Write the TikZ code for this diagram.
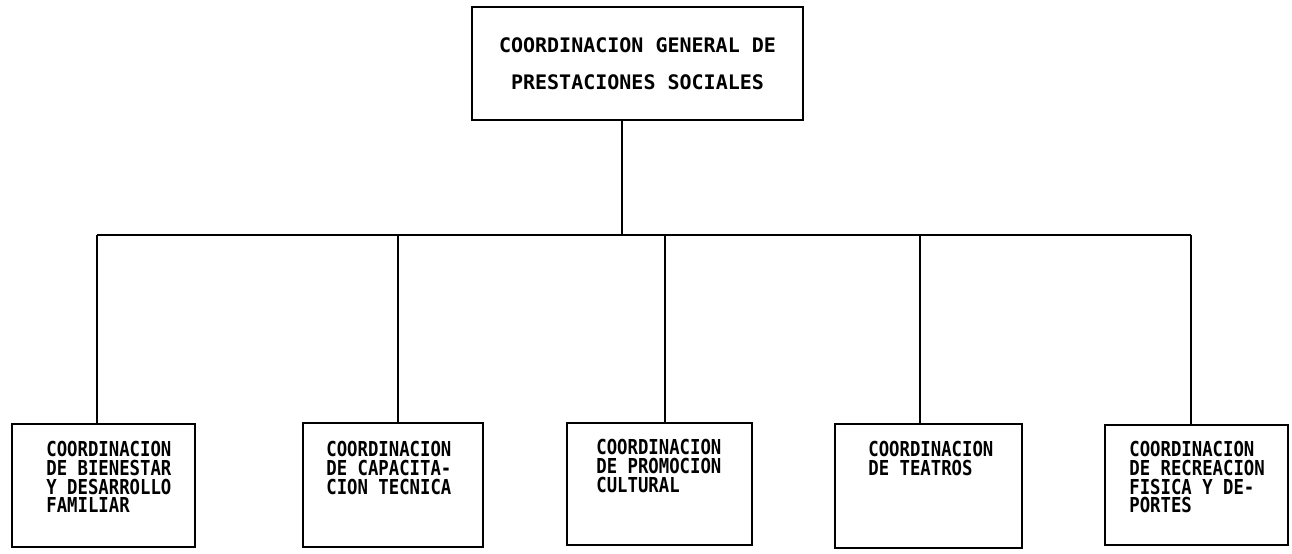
\documentclass[tikz,border=0pt]{standalone}
\usepackage{fontspec}
\newfontfamily\typefont{DejaVu Sans Mono}
\newfontfamily\narrowfont[FakeStretch=0.84]{DejaVu Sans Mono}
\usepackage{tikz}

\begin{document}
\begin{tikzpicture}[x=0.5pt,y=-0.5pt,line width=1.4pt]
			\tikzstyle{unit}=[draw,rectangle,inner sep=0pt]
			\tikzstyle{unitlabel}=[anchor=north west,inner sep=0pt,align=left,font=\narrowfont\bfseries\fontsize{10.3}{9.35}\selectfont]
			\useasboundingbox (0,0) rectangle (1292,553);

			\node[unit,minimum width=165.5pt,minimum height=56.5pt,align=center,font=\typefont\bfseries\fontsize{10}{18.5}\selectfont] (general) at (637.5,63.5) {COORDINACION GENERAL DE\\PRESTACIONES SOCIALES};

			\node[unit,minimum width=91.5pt,minimum height=61.5pt] (bienestar) at (103.5,485.5) {};
			\node[unitlabel] (bienestartxt) at (45,440) {COORDINACION\\DE BIENESTAR\\Y DESARROLLO\\FAMILIAR};

			\node[unit,minimum width=90pt,minimum height=62pt] (capacitacion) at (393,485) {};
			\node[unitlabel] (capacitaciontxt) at (325,440) {COORDINACION\\DE CAPACITA-\\CION TECNICA};

			\node[unit,minimum width=92.5pt,minimum height=61pt] (promocion) at (659.5,484) {};
			\node[unitlabel] (promociontxt) at (595,438) {COORDINACION\\DE PROMOCION\\CULTURAL};

			\node[unit,minimum width=93.5pt,minimum height=62pt] (teatros) at (928.5,486) {};
			\node[unitlabel] (teatrostxt) at (867,440) {COORDINACION\\DE TEATROS};

			\node[unit,minimum width=91.5pt,minimum height=60pt] (recreacion) at (1196.5,485) {};
			\node[unitlabel] (recreaciontxt) at (1128,440) {COORDINACION\\DE RECREACION\\FISICA Y DE-\\PORTES};

			% bus line
			\coordinate (bus) at (622,235);
			\coordinate (tapbienestar) at (97,235);
			\coordinate (tapcapacitacion) at (398,235);
			\coordinate (tappromocion) at (665,235);
			\coordinate (tapteatros) at (920,235);
			\coordinate (taprecreacion) at (1191,235);

			\draw (general.south -| bus) -- (bus);
			\draw (tapbienestar) -- (taprecreacion);

			\draw (tapbienestar) -- (tapbienestar |- bienestar.north);
			\draw (tapcapacitacion) -- (tapcapacitacion |- capacitacion.north);
			\draw (tappromocion) -- (tappromocion |- promocion.north);
			\draw (tapteatros) -- (tapteatros |- teatros.north);
			\draw (taprecreacion) -- (taprecreacion |- recreacion.north);

		\end{tikzpicture}
\end{document}
